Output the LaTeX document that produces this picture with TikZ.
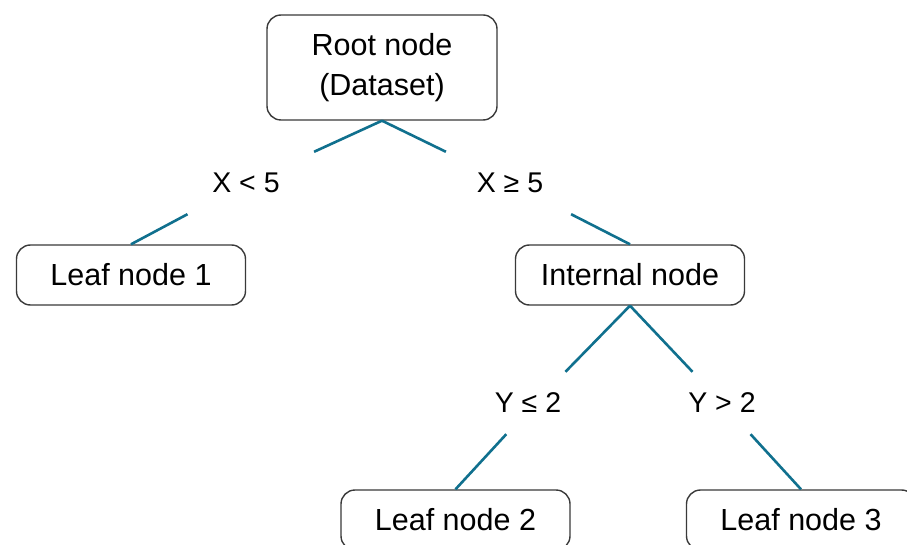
\documentclass[tikz,border=0pt]{standalone}
\usepackage{fontspec}
\setmainfont{Liberation Sans}
\definecolor{edgeblue}{HTML}{10708E}
\definecolor{boxgray}{HTML}{3A3A3A}
\begin{document}
\begin{tikzpicture}[x=1pt,y=-1pt,
  treebox/.style={draw=boxgray, line width=1.4pt, rounded corners=14pt, fill=white,
    minimum width=229pt, minimum height=60pt, inner sep=0pt, align=center,
    font=\fontsize{30.5}{40}\selectfont},
  cond/.style={minimum width=150pt, minimum height=62pt, inner sep=0pt,
    font=\fontsize{28.5}{34}\selectfont},
  branch/.style={draw=edgeblue, line width=2.6pt}]
\clip (0,0) rectangle (907,545);
\fill[white] (0,0) rectangle (907,545);
\node[treebox, minimum height=105pt, minimum width=230pt] (root) at (382,67.5) {Root node\\(Dataset)};
\node[treebox] (leaf1) at (131,275) {Leaf node 1};
\node[treebox] (internal) at (630,275) {Internal node};
\node[treebox] (leaf2) at (455.5,520) {Leaf node 2};
\node[treebox] (leaf3) at (801,520) {Leaf node 3};
\node[cond] (c1) at (246,183) {X < 5};
\node[cond] (c2) at (510,183) {X ≥ 5};
\node[cond] (c3) at (535,403) {\hspace*{-14pt}Y ≤ 2};
\node[cond] (c4) at (722,403) {Y > 2};
\draw[branch] (root.south) -- (c1) -- (leaf1.north);
\draw[branch] (root.south) -- (c2) -- (internal.north);
\draw[branch] (internal.south) -- (c3) -- (leaf2.north);
\draw[branch] (internal.south) -- (c4) -- (leaf3.north);
\end{tikzpicture}
\end{document}
